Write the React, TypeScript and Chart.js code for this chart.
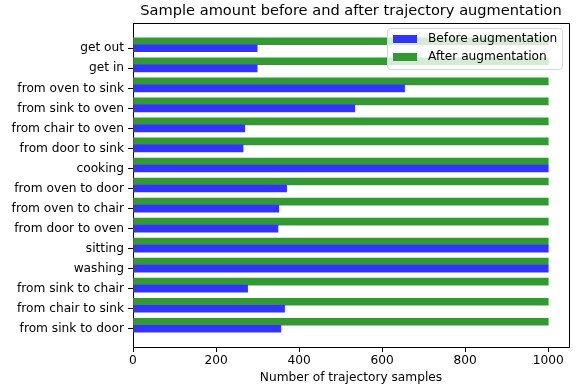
import React, { useEffect, useRef } from 'react';
import { Chart, registerables } from 'chart.js';

Chart.register(...registerables);

const categories = [
  'get out', 'get in', 'from oven to sink', 'from sink to oven', 'from chair to oven',
  'from door to sink', 'cooking', 'from oven to door', 'from oven to chair', 'from door to oven',
  'sitting', 'washing', 'from sink to chair', 'from chair to sink', 'from sink to door',
];
const beforeValues = [299, 299, 654, 534, 269, 265, 1000, 370, 351, 349, 1000, 1000, 276, 365, 356];
const afterValues = [1000, 1000, 1000, 1000, 1000, 1000, 1000, 1000, 1000, 1000, 1000, 1000, 1000, 1000, 1000];
const xTicks = [0, 200, 400, 600, 800, 1000];
const seriesLabels = ['Before augmentation', 'After augmentation'];
const barHeight = 0.35;

const FONT = 'DejaVu Sans';
const TICK_SIZE = 12.2;

const framePlugin = {
  id: 'frame',
  afterDatasetsDraw(chart: any) {
    const { ctx, chartArea: a } = chart;
    ctx.save();
    ctx.strokeStyle = '#000';
    ctx.lineWidth = 1;
    ctx.beginPath();
    ctx.moveTo(a.left, Math.round(a.top) + 0.5);
    ctx.lineTo(Math.round(a.right) + 0.5, Math.round(a.top) + 0.5);
    ctx.lineTo(Math.round(a.right) + 0.5, a.bottom);
    ctx.stroke();
    ctx.restore();
  },
};

const legendPlugin = {
  id: 'mplLegend',
  afterDraw(chart: any) {
    const { ctx } = chart;
    const ds = chart.data.datasets;
    const x = 387.5, y = 28.5, w = 175, h = 41, r = 3;
    ctx.save();
    ctx.beginPath();
    ctx.moveTo(x + r, y);
    ctx.lineTo(x + w - r, y);
    ctx.arcTo(x + w, y, x + w, y + r, r);
    ctx.lineTo(x + w, y + h - r);
    ctx.arcTo(x + w, y + h, x + w - r, y + h, r);
    ctx.lineTo(x + r, y + h);
    ctx.arcTo(x, y + h, x, y + h - r, r);
    ctx.lineTo(x, y + r);
    ctx.arcTo(x, y, x + r, y, r);
    ctx.closePath();
    ctx.fillStyle = 'rgba(255,255,255,0.8)';
    ctx.fill();
    ctx.strokeStyle = '#d6d6d6';
    ctx.lineWidth = 1;
    ctx.stroke();
    ctx.font = `${TICK_SIZE}px "${FONT}"`;
    ctx.textBaseline = 'middle';
    ctx.textAlign = 'left';
    ds.forEach((d: any, i: number) => {
      const cy = 39 + i * 18;
      ctx.fillStyle = d.backgroundColor;
      ctx.fillRect(393, cy - 4, 24, 8);
      ctx.fillStyle = '#000';
      ctx.fillText(d.label, 428, cy);
    });
    ctx.restore();
  },
};

export default function App() {
  const ref = useRef<HTMLCanvasElement>(null);
  useEffect(() => {
    document.body.style.margin = '0';
    Chart.defaults.font.family = FONT;
    Chart.defaults.color = '#000';
    const chart = new Chart(ref.current as HTMLCanvasElement, {
      type: 'bar',
      data: {
        datasets: [
          {
            label: seriesLabels[0],
            data: categories.map((_, i) => ({ x: beforeValues[i], y: i })),
            backgroundColor: 'rgb(51,51,255)',
          },
          {
            label: seriesLabels[1],
            data: categories.map((_, i) => ({ x: afterValues[i], y: i - barHeight })),
            backgroundColor: 'rgb(51,153,51)',
          },
        ],
      },
      options: {
        indexAxis: 'y',
        animation: false,
        responsive: true,
        maintainAspectRatio: false,
        layout: { padding: { left: 0, right: 11, top: 0, bottom: 0 } },
        datasets: {
          bar: { grouped: false, barPercentage: 1, categoryPercentage: 1, borderWidth: 0 } as any,
        },
        scales: {
          x: {
            type: 'linear',
            min: 0,
            max: 1050,
            offset: false,
            afterBuildTicks: (s: any) => { s.ticks = xTicks.map((v) => ({ value: v })); },
            afterFit: (s: any) => { s.height = 43; },
            grid: { drawOnChartArea: false, drawTicks: true, tickLength: 5, color: '#000', offset: false },
            border: { display: true, color: '#000', width: 1 },
            ticks: {
              font: { size: TICK_SIZE },
              color: '#000',
              padding: 2,
              maxRotation: 0,
              callback: (v: any) => String(v),
            },
            title: {
              display: true,
              text: 'Number of trajectory samples',
              font: { size: TICK_SIZE },
              color: '#000',
              padding: { top: 0, bottom: 4.4 },
            },
          },
          y: {
            type: 'linear',
            reverse: true,
            min: -1.26,
            max: 14.91,
            offset: false,
            afterBuildTicks: (s: any) => { s.ticks = categories.map((_, i) => ({ value: i })); },
            afterFit: (s: any) => { s.width = 133; },
            grid: { drawOnChartArea: false, drawTicks: true, tickLength: 5, color: '#000', offset: false },
            border: { display: true, color: '#000', width: 1 },
            ticks: {
              autoSkip: false,
              font: { size: TICK_SIZE },
              color: '#000',
              padding: 4,
              callback: (v: any) => categories[Math.round(Number(v))] ?? '',
            },
          },
        },
        plugins: {
          legend: { display: false },
          tooltip: { enabled: false },
          title: {
            display: true,
            fullSize: false,
            text: 'Sample amount before and after trajectory augmentation',
            font: { size: 14.6, weight: 'normal' },
            color: '#000',
            padding: { top: 2, bottom: 3.5 },
          },
        },
      },
      plugins: [framePlugin, legendPlugin],
    });
    return () => chart.destroy();
  }, []);
  return (
    <div style={{ position: 'relative', width: 580, height: 390 }}>
      <canvas ref={ref} />
    </div>
  );
}
